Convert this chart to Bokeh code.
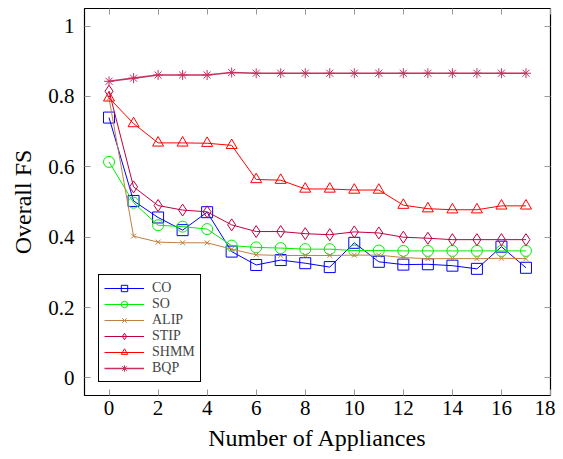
from bokeh.plotting import figure
from bokeh.models import LinearAxis, Legend, LegendItem, FixedTicker, Range1d, CustomJSTickFormatter
from bokeh.embed import file_html
from bokeh.resources import INLINE

x = list(range(18))
co = [0.740, 0.503, 0.456, 0.420, 0.471, 0.359, 0.321, 0.335, 0.326, 0.315, 0.384, 0.330, 0.322, 0.323, 0.319, 0.310, 0.373, 0.313]
so = [0.614, 0.498, 0.434, 0.430, 0.423, 0.376, 0.371, 0.369, 0.366, 0.366, 0.362, 0.362, 0.361, 0.361, 0.361, 0.361, 0.361, 0.361]
alip = [0.795, 0.403, 0.386, 0.384, 0.384, 0.366, 0.350, 0.348, 0.348, 0.348, 0.349, 0.349, 0.342, 0.339, 0.339, 0.339, 0.340, 0.339]
stip = [0.815, 0.543, 0.490, 0.477, 0.472, 0.435, 0.416, 0.416, 0.410, 0.407, 0.415, 0.412, 0.400, 0.397, 0.393, 0.393, 0.393, 0.393]
shmm = [0.796, 0.723, 0.668, 0.668, 0.667, 0.661, 0.564, 0.562, 0.537, 0.537, 0.534, 0.534, 0.491, 0.481, 0.478, 0.478, 0.489, 0.489]
bqp = [0.843, 0.852, 0.861, 0.861, 0.861, 0.868, 0.866, 0.866, 0.866, 0.866, 0.866, 0.866, 0.866, 0.866, 0.866, 0.866, 0.866, 0.866]

x_ticks = [0, 2, 4, 6, 8, 10, 12, 14, 16, 18]
y_ticks = [0, 0.2, 0.4, 0.6, 0.8, 1.0]

FONT = "Liberation Serif"

p = figure(width=555, height=455, output_backend="svg", toolbar_location=None,
           x_range=Range1d(-1, 18), y_range=Range1d(-0.05, 1.05),
           min_border_left=84, min_border_right=5, min_border_top=8, min_border_bottom=60)
p.grid.visible = False
p.outline_line_color = "black"
p.outline_line_width = 1.2
p.background_fill_color = "white"
p.border_fill_color = "white"

p.xaxis.ticker = FixedTicker(ticks=x_ticks)
p.yaxis.ticker = FixedTicker(ticks=y_ticks)
p.yaxis.major_label_overrides = {0: "0", 0.2: "0.2", 0.4: "0.4", 0.6: "0.6", 0.8: "0.8", 1.0: "1"}
for ax in (p.xaxis[0], p.yaxis[0]):
    ax.axis_line_color = None
    ax.major_tick_in = 6
    ax.major_tick_out = 0
    ax.major_tick_line_color = "#999999"
    ax.minor_tick_line_color = None
    ax.major_label_text_font = FONT
    ax.major_label_text_font_size = "21px"
    ax.major_label_text_color = "black"
    ax.axis_label_text_font = FONT
    ax.axis_label_text_font_size = "24px"
    ax.axis_label_text_font_style = "normal"
    ax.axis_label_text_color = "black"
p.xaxis.axis_label = "Number of Appliances"
p.yaxis.axis_label = "Overall FS"
p.xaxis.major_label_standoff = 5
p.yaxis.major_label_standoff = 10
p.xaxis.axis_label_standoff = 7
p.yaxis.axis_label_standoff = 9

# mirror ticks (no labels)
blank = CustomJSTickFormatter(code="return ''")
rax = LinearAxis(ticker=FixedTicker(ticks=y_ticks), formatter=blank,
                 axis_line_color=None, major_tick_in=6, major_tick_out=0,
                 major_tick_line_color="#999999", minor_tick_line_color=None,
                 major_label_standoff=0)
tax = LinearAxis(ticker=FixedTicker(ticks=x_ticks), formatter=blank,
                 axis_line_color=None, major_tick_in=6, major_tick_out=0,
                 major_tick_line_color="#999999", minor_tick_line_color=None,
                 major_label_standoff=0)
p.add_layout(rax, "right")
p.add_layout(tax, "above")

series = [
    ("CO", co, "#0000ff", "square", 11, 1.0),
    ("SO", so, "#00ee00", "circle", 11, 1.0),
    ("ALIP", alip, "#bf8040", "x", 7, 1.0),
    ("STIP", stip, "#bf0040", "diamond", 12, 1.0),
    ("SHMM", shmm, "#ff0000", "triangle", 11, 1.0),
    ("BQP", bqp, "#c8305e", "asterisk", 10, 1.6),
]

items = []
for name, ys, color, marker, size, lw in series:
    r1 = p.line(x, ys, line_color=color, line_width=lw)
    r2 = p.scatter(x, ys, marker=marker, size=size, line_color=color, fill_alpha=0,
                   line_width=1.0)
    items.append(LegendItem(label=name, renderers=[r1, r2]))

legend = Legend(items=items, location=(14, 13), border_line_color="black",
                border_line_width=1.2, border_line_alpha=1,
                label_text_font=FONT, label_text_font_size="14px",
                glyph_width=40, glyph_height=16, label_height=16,
                spacing=0, padding=5, margin=0, label_standoff=8,
                background_fill_alpha=1)
p.add_layout(legend, "center")

open("out.html", "w").write(file_html(p, INLINE))
